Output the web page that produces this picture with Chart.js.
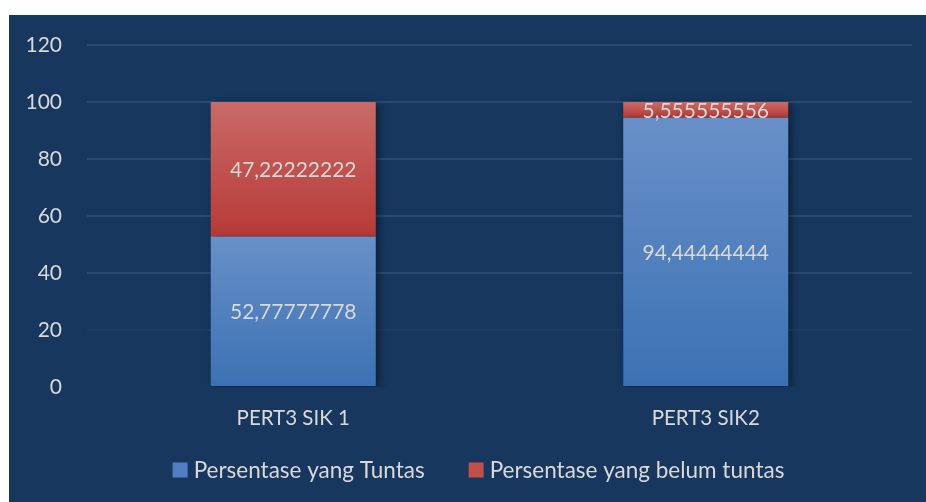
<!DOCTYPE html>
<html>
<head>
<meta charset="utf-8">
<script src="https://cdn.jsdelivr.net/npm/chart.js@4/dist/chart.umd.min.js"></script>
<style>
  html, body { margin: 0; padding: 0; background: #fff; }
  #wrap { position: absolute; left: 9px; top: 15px; width: 917px; height: 487px; background: #17375e; }
</style>
</head>
<body>
<div id="wrap"><canvas id="c" width="917" height="487"></canvas></div>
<script>
const categories = ['PERT3 SIK 1', 'PERT3 SIK2'];
const tuntas = [52.77777778, 94.44444444];
const belumTuntas = [47.22222222, 5.555555556];
const seriesNames = ['Persentase yang Tuntas', 'Persentase yang belum tuntas'];
const legendColors = ['#4f7fbf', '#c0504d'];

const textColor = '#d9d9d9';
const fontFamily = 'Lato, "Open Sans", sans-serif';

// vertical gradient spanning one stacked segment
function segGradient(top, bottom) {
  return (context) => {
    const chart = context.chart;
    const y = chart.scales.y;
    if (!y || context.dataIndex === undefined) return top;
    const i = context.dataIndex;
    const lo = context.datasetIndex === 0 ? 0 : tuntas[i];
    const hi = context.datasetIndex === 0 ? tuntas[i] : tuntas[i] + belumTuntas[i];
    const y0 = y.getPixelForValue(hi), y1 = y.getPixelForValue(lo);
    if (!isFinite(y0) || !isFinite(y1) || y0 === y1) return top;
    const g = chart.ctx.createLinearGradient(0, y0, 0, y1);
    g.addColorStop(0, top);
    g.addColorStop(1, bottom);
    return g;
  };
}

const shadowPlugin = {
  id: 'barShadow',
  beforeDatasetsDraw(chart) {
    const c = chart.ctx;
    c.save();
    c.shadowColor = 'rgba(0,0,0,0.45)';
    c.shadowBlur = 8;
    c.shadowOffsetX = 3;
    c.shadowOffsetY = 2;
  },
  afterDatasetsDraw(chart) {
    chart.ctx.restore();
  }
};

const labelPlugin = {
  id: 'segLabels',
  afterDatasetsDraw(chart) {
    const c = chart.ctx;
    c.save();
    c.font = '21px ' + fontFamily;
    c.fillStyle = textColor;
    c.textAlign = 'center';
    c.textBaseline = 'middle';
    chart.data.datasets.forEach((ds, di) => {
      chart.getDatasetMeta(di).data.forEach((bar, i) => {
        const txt = ds.data[i].toPrecision(10).replace('.', ',');
        c.fillText(txt, bar.x, (bar.y + bar.base) / 2 + 1);
      });
    });
    c.restore();
  }
};

// legend drawn below the axis
const legendPlugin = {
  id: 'bottomLegend',
  afterDraw(chart) {
    const c = chart.ctx;
    c.save();
    c.font = '22.5px ' + fontFamily;
    c.textBaseline = 'middle';
    const box = 15, gap = 6, spacing = 44;
    const widths = seriesNames.map(t => c.measureText(t).width);
    const total = widths.reduce((a, w) => a + box + gap + w, 0) + spacing * (seriesNames.length - 1);
    let x = chart.width / 2 + 11 - total / 2;
    const yMid = 455;
    seriesNames.forEach((t, i) => {
      c.fillStyle = legendColors[i];
      c.fillRect(x, yMid - box / 2, box, box);
      x += box + gap;
      c.fillStyle = textColor;
      c.fillText(t, x, yMid + 1);
      x += widths[i] + spacing;
    });
    c.restore();
  }
};

new Chart(document.getElementById('c'), {
  type: 'bar',
  data: {
    labels: categories,
    datasets: [
      { label: seriesNames[0], data: tuntas, backgroundColor: segGradient('#6890c8', '#3b71b3') },
      { label: seriesNames[1], data: belumTuntas, backgroundColor: segGradient('#c96a67', '#b73a37') }
    ]
  },
  options: {
    responsive: false,
    animation: false,
    layout: { padding: { top: 30, right: 14, bottom: 0, left: 0 } },
    datasets: { bar: { categoryPercentage: 1, barPercentage: 0.4 } },
    plugins: {
      legend: { display: false },
      tooltip: { enabled: false }
    },
    scales: {
      x: {
        stacked: true,
        grid: { display: false, drawTicks: false },
        border: { display: false },
        ticks: { color: textColor, font: { family: fontFamily, size: 20.5 }, padding: 19 },
        afterFit: (s) => { s.height = 115; }
      },
      y: {
        stacked: true,
        min: 0,
        max: 120,
        ticks: { stepSize: 20, color: textColor, font: { family: fontFamily, size: 21 }, padding: 25 },
        border: { display: false },
        grid: {
          drawTicks: false,
          lineWidth: 2,
          color: (ctx) => {
            const v = ctx.tick ? ctx.tick.value : null;
            if (v === 0) return 'rgba(0,0,0,0)';
            if (v === 20) return '#1d3d65';
            return '#2b4a71';
          }
        },
        afterFit: (s) => { s.width = 78; s.paddingTop = 0; s.paddingBottom = 0; }
      }
    }
  },
  plugins: [shadowPlugin, labelPlugin, legendPlugin]
});
</script>
</body>
</html>
